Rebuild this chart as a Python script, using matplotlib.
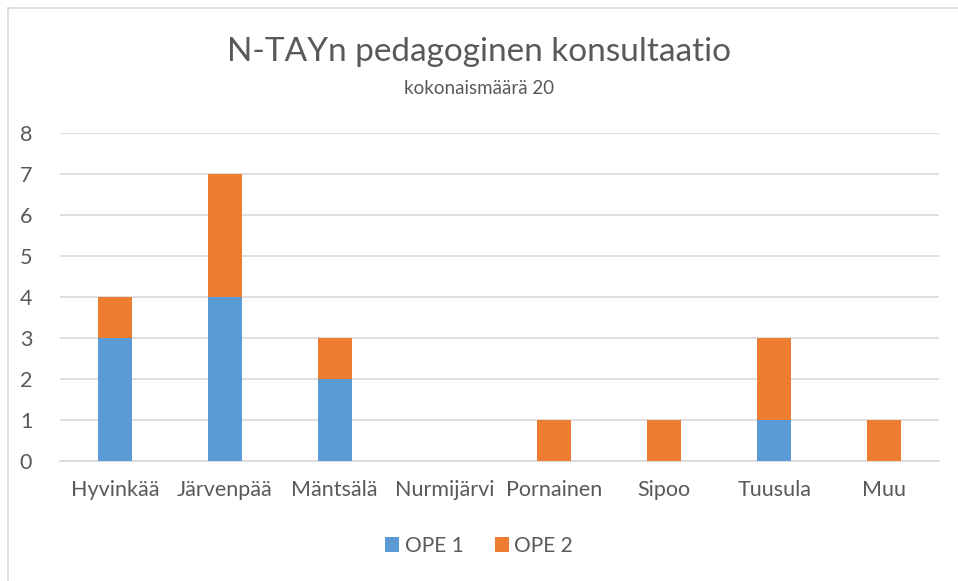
import numpy as np
import matplotlib.pyplot as plt
from matplotlib.lines import Line2D

categories = ["Hyvinkää", "Järvenpää", "Mäntsälä", "Nurmijärvi",
              "Pornainen", "Sipoo", "Tuusula", "Muu"]
ope1 = [3, 4, 2, 0, 0, 0, 1, 0]
ope2 = [1, 3, 1, 0, 1, 1, 2, 1]

plt.rcParams['font.family'] = ['Lato', 'DejaVu Sans']

fig = plt.figure(figsize=(9.58, 5.81), dpi=100)
ax = fig.add_axes([60 / 958, 1 - 461 / 581, 879 / 958, 328 / 581])

x = np.arange(len(categories))
w = 0.31
ax.bar(x, ope1, w, color='#5B9BD5', label='OPE 1', zorder=3)
ax.bar(x, ope2, w, bottom=ope1, color='#ED7D31', label='OPE 2', zorder=3)

ax.set_xlim(-0.5, len(categories) - 0.5)
ax.set_ylim(0, 8)
ax.set_yticks(range(0, 9))
ax.set_xticks(x)
ax.set_xticklabels(categories)
ax.grid(axis='y', color='#D9D9D9', linewidth=1.2, zorder=0)
for s in ['top', 'right', 'left']:
    ax.spines[s].set_visible(False)
ax.spines['bottom'].set_color('#D9D9D9')
ax.spines['bottom'].set_linewidth(1.2)
ax.tick_params(length=0, labelsize=15.5, colors='#595959')
ax.tick_params(axis='x', pad=14)
ax.tick_params(axis='y', pad=20)

fig.text(0.5, 1 - 52 / 581, "N-TAYn pedagoginen konsultaatio",
         ha='center', va='center', fontsize=24, color='#595959')
fig.text(0.5, 1 - 89 / 581, "kokonaismäärä 20",
         ha='center', va='center', fontsize=13.5, color='#595959')

fig.legend(loc='center', bbox_to_anchor=(0.5, 1 - 546 / 581), ncol=2,
           frameon=False, fontsize=15, labelcolor='#595959',
           handlelength=0.7, handleheight=0.7, handletextpad=0.25,
           columnspacing=1.5)

fig.add_artist(Line2D([8 / 958, 8 / 958], [0, 1 - 8 / 581],
                      transform=fig.transFigure, color='#D9D9D9', lw=1.2))
fig.add_artist(Line2D([8 / 958, 1], [1 - 8 / 581, 1 - 8 / 581],
                      transform=fig.transFigure, color='#D9D9D9', lw=1.2))

fig.savefig("out.png", dpi=100)
